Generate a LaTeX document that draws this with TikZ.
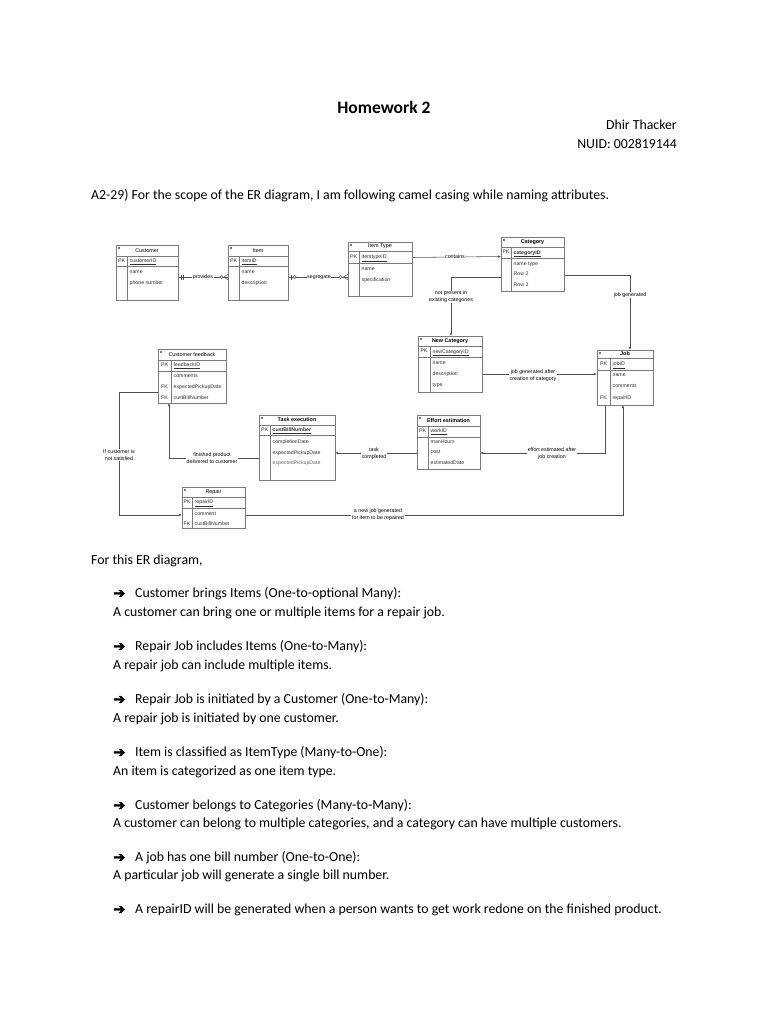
\documentclass[tikz,border=0pt]{standalone}
\usepackage{fontspec}
\setmainfont{Carlito}
\newfontfamily\dfont{Liberation Sans}
\newfontfamily\symfont{DejaVu Sans}
\newfontfamily\boldsym[FakeBold=2]{DejaVu Sans}
\usetikzlibrary{arrows.meta}
\definecolor{tblgray}{HTML}{7A7A7A}
\definecolor{lngray}{HTML}{505050}
\definecolor{attrcol}{HTML}{303030}
\tikzset{
  tblbox/.style={draw=tblgray, line width=0.6, inner sep=0, outer sep=0, rectangle, fill=white},
  tblline/.style={draw=tblgray, line width=0.5},
  attr/.style={font=\dfont\fontsize{5.2}{6}\selectfont, text=attrcol, anchor=west, inner sep=0, text height=3.8, text depth=1.3},
  pkl/.style={font=\dfont\fontsize{5.2}{6}\selectfont, text=attrcol, inner sep=0, text height=3.8, text depth=1.3},
  iconline/.style={draw=tblgray, line width=0.35},
  lbl/.style={font=\dfont\fontsize{5.3}{6.8}\selectfont, fill=white, inner sep=0.6, align=center},
  conn/.style={draw=lngray, line width=0.55},
  arr/.style={conn, -{Latex[length=3,width=2.4]}},
  cardmark/.style={draw=lngray, line width=0.5},
  body/.style={font=\fontsize{13.8}{16}\selectfont, inner sep=0, anchor=base west},
  bullet/.style={font=\boldsym\fontsize{14.5}{16}\selectfont, inner sep=0, anchor=base west},
}
% #1 name, #2 left, #3 top, #4 right, #5 bottom, #6 title, #7 title bottom, #8 pk bottom, #9 divider
\newcommand{\ertbl}[9]{%
  \node[tblbox, minimum width={#4-#2}, minimum height={#5-#3}] (#1) at ({(#2+#4)/2},{(#3+#5)/2}) {};
  \draw[tblline] (#2,#7) -- (#4,#7);
  \draw[tblline] (#2,#8) -- (#4,#8);
  \draw[tblline] (#9,#7) -- (#9,#5);
  \draw[iconline] ({#2+1.5},{#3+2}) -- ({#2+3.6},{#3+2});
  \draw[iconline] ({#2+1.5},{#3+3}) -- ({#2+3.6},{#3+3});
  \node[pkl] (#1-pk) at ({(#2+#9)/2},{(#7+#8)/2}) {PK};
  \node[inner sep=0] (#1-title) at ({(#2+#4)/2},{(#3+#7)/2}) {#6};
}
\begin{document}
\begin{tikzpicture}[x=1pt,y=-1pt]
\useasboundingbox[fill=white] (0,0) rectangle (768,1024);

% ---------- page text ----------
\node[font=\bfseries\fontsize{17.5}{20}\selectfont, inner sep=0, anchor=base] (title) at (384,113.5) {Homework 2};
\node[body, anchor=base east] (author) at (677,130) {Dhir Thacker};
\node[body, anchor=base east] (nuid) at (677,148.5) {NUID: 002819144};
\node[body] (intro) at (91,199.5) {A2-29) For the scope of the ER diagram, I am following camel casing while naming attributes.};
\node[body] (forthis) at (91,564.5) {For this ER diagram,};

\node[bullet] (b1) at (113,598) {➔};
\node[body] (h1) at (135,597.5) {Customer brings Items (One-to-optional Many):};
\node[body] (d1) at (113,616.5) {A customer can bring one or multiple items for a repair job.};
\node[bullet] (b2) at (113,651) {➔};
\node[body] (h2) at (135,650.5) {Repair Job includes Items (One-to-Many):};
\node[body] (d2) at (113,669.5) {A repair job can include multiple items.};
\node[bullet] (b3) at (113,704) {➔};
\node[body] (h3) at (135,703.5) {Repair Job is initiated by a Customer (One-to-Many):};
\node[body] (d3) at (113,722.5) {A repair job is initiated by one customer.};
\node[bullet] (b4) at (113,757) {➔};
\node[body] (h4) at (135,756.5) {Item is classified as ItemType (Many-to-One):};
\node[body] (d4) at (113,775.5) {An item is categorized as one item type.};
\node[bullet] (b5) at (113,810) {➔};
\node[body] (h5) at (135,809.5) {Customer belongs to Categories (Many-to-Many):};
\node[body] (d5) at (113,827.5) {A customer can belong to multiple categories, and a category can have multiple customers.};
\node[bullet] (b6) at (113,862) {➔};
\node[body] (h6) at (135,861.5) {A job has one bill number (One-to-One):};
\node[body] (d6) at (113,879.5) {A particular job will generate a single bill number.};
\node[bullet] (b7) at (113,914) {➔};
\node[body] (h7) at (135,913.5) {A repairID will be generated when a person wants to get work redone on the finished product.};

% ---------- connectors (drawn first, tables on top) ----------
\draw[conn] (178,277) -- (228,277);
\draw[conn] (288,277) -- (348,277);
\draw[arr] (412,257.5) -- (501,256.5);
\draw[arr] (501,277) -- (451,277) -- (451,336);
\draw[arr] (564,275) -- (630,275) -- (630,350);
\draw[arr] (482,374) -- (597,374);
\draw[arr] (605,405) -- (605,453) -- (480,453);
\draw[arr] (417,453) -- (335,453);
\draw[arr] (259,458) -- (169,458) -- (169,403);
\draw[arr] (158,392) -- (119,392) -- (119,515) -- (182,515);
\draw[arr] (245,515) -- (623,515) -- (623,405);

% ---------- tables ----------
\ertbl{cust}{116}{245}{178}{300}{\dfont\fontsize{5.4}{6}\selectfont Customer}{256}{266}{127}
\node[attr] (cust-a1) at (129.5,261.3) {\underline{customerID}};
\node[attr] (cust-a2) at (129.5,272.5) {name};
\node[attr] (cust-a3) at (129.5,283.5) {phone number};

\ertbl{item}{228}{245}{288}{300}{\dfont\fontsize{5.4}{6}\selectfont Item}{256}{266}{239}
\node[attr] (item-a1) at (241.5,261.3) {\underline{itemID}};
\node[attr] (item-a2) at (241.5,272.5) {name};
\node[attr] (item-a3) at (241.5,283.5) {description};

\ertbl{itype}{348}{242}{412}{296}{\dfont\fontsize{5.4}{6}\selectfont Item Type}{251}{263}{359}
\node[attr] (itype-a1) at (361.5,257.3) {\underline{itemtypeID}};
\node[attr] (itype-a2) at (361.5,269) {name};
\node[attr] (itype-a3) at (361.5,280.5) {specification};

\ertbl{cat}{501}{237}{564}{291}{\dfont\bfseries\fontsize{5.4}{6}\selectfont Category}{247}{258}{511}
\node[attr] (cat-a1) at (513.5,252.8) {\bfseries\underline{categoryID}};
\node[attr] (cat-a2) at (513.5,264) {name type};
\node[attr] (cat-a3) at (513.5,274.5) {Row 2};
\node[attr] (cat-a4) at (513.5,285) {Row 3};

\ertbl{newcat}{418}{336}{482}{392}{\dfont\bfseries\fontsize{5.4}{6}\selectfont New Category}{346}{357}{430}
\node[attr] (newcat-a1) at (432.5,351.8) {\underline{newCategoryID}};
\node[attr] (newcat-a2) at (432.5,363) {name};
\node[attr] (newcat-a3) at (432.5,374) {description};
\node[attr] (newcat-a4) at (432.5,385) {type};

\ertbl{job}{597}{350}{653}{405}{\dfont\bfseries\fontsize{5.4}{6}\selectfont Job}{358}{370}{610}
\node[attr] (job-a1) at (612.5,364) {\underline{jobID}};
\node[attr] (job-a2) at (612.5,375.5) {name};
\node[attr] (job-a3) at (612.5,386.5) {comments};
\node[attr] (job-a4) at (612.5,398) {repairID};
\node[pkl] (job-fk) at (603.5,398) {FK};

\ertbl{fb}{158}{349}{226}{403}{\dfont\fontsize{5.4}{6}\selectfont Customer feedback}{360}{371}{171}
\node[attr] (fb-a1) at (173.5,365.5) {\underline{feedbackID}};
\node[attr] (fb-a2) at (173.5,376.5) {comments};
\node[attr] (fb-a3) at (173.5,387.3) {expectedPickupDate};
\node[attr] (fb-a4) at (173.5,398) {custBillNumber};
\node[pkl] (fb-fk1) at (164.5,387.3) {FK};
\node[pkl] (fb-fk2) at (164.5,398) {FK};

\ertbl{task}{259}{415}{335}{480}{\dfont\bfseries\fontsize{5.4}{6}\selectfont Task execution}{425}{435}{270}
\node[attr] (task-a1) at (272.5,430.3) {\bfseries\underline{custBillNumber}};
\node[attr] (task-a2) at (272.5,442.5) {completionDate};
\node[attr] (task-a3) at (272.5,453) {expectedPickupDate};
\node[attr, text=black!60] (task-a4) at (272.5,463.5) {expectedPickupDate};

\ertbl{effort}{417}{415}{480}{469}{\dfont\bfseries\fontsize{5.4}{6}\selectfont Effort estimation}{426}{437}{428}
\node[attr] (effort-a1) at (430.5,431.5) {\underline{workID}};
\node[attr] (effort-a2) at (430.5,442.5) {manHours};
\node[attr] (effort-a3) at (430.5,452.7) {cost};
\node[attr] (effort-a4) at (430.5,463.5) {estimatedDate};

\ertbl{repair}{182}{487}{245}{528}{\dfont\fontsize{5.4}{6}\selectfont Repair}{497}{508}{192}
\node[attr] (repair-a1) at (194.5,502.5) {\underline{repairID}};
\node[attr] (repair-a2) at (194.5,514) {comment};
\node[attr] (repair-a3) at (194.5,524) {custBillNumber};
\node[pkl] (repair-fk) at (187,524) {FK};

% ---------- cardinality marks ----------
\draw[cardmark] (181.5,274.5) -- (181.5,279.5);
\draw[cardmark] (183.5,274.5) -- (183.5,279.5);
\draw[cardmark, fill=white] (221.5,277) circle (1.6);
\draw[cardmark] (228,274) -- (224,277) -- (228,280);
\draw[cardmark] (291,274.5) -- (291,279.5);
\draw[cardmark, fill=white] (294.6,277) circle (1.6);
\draw[cardmark, fill=white] (340.5,277) circle (1.6);
\draw[cardmark] (348,274) -- (343.5,277) -- (348,280);

% ---------- connector labels ----------
\node[lbl] (l-prov) at (203,277) {provides};
\node[lbl] (l-seg) at (319,277) {segregate};
\node[lbl] (l-cont) at (455,257) {contains};
\node[lbl] (l-notp) at (451,297) {not present in\\existing categories};
\node[lbl] (l-jg) at (630,295) {job generated};
\node[lbl] (l-jga) at (533,375.5) {job generated after\\creation of category};
\node[lbl] (l-eff) at (552,453.5) {effort estimated after\\job creation};
\node[lbl] (l-task) at (374,453.5) {task\\completed};
\node[lbl] (l-fin) at (212,458) {finished product\\delivered to customer};
\node[lbl] (l-ifc) at (119,455) {If customer is\\not satisfied};
\node[lbl] (l-new) at (378,514.5) {a new job generated\\for item to be repaired};
\end{tikzpicture}
\end{document}
